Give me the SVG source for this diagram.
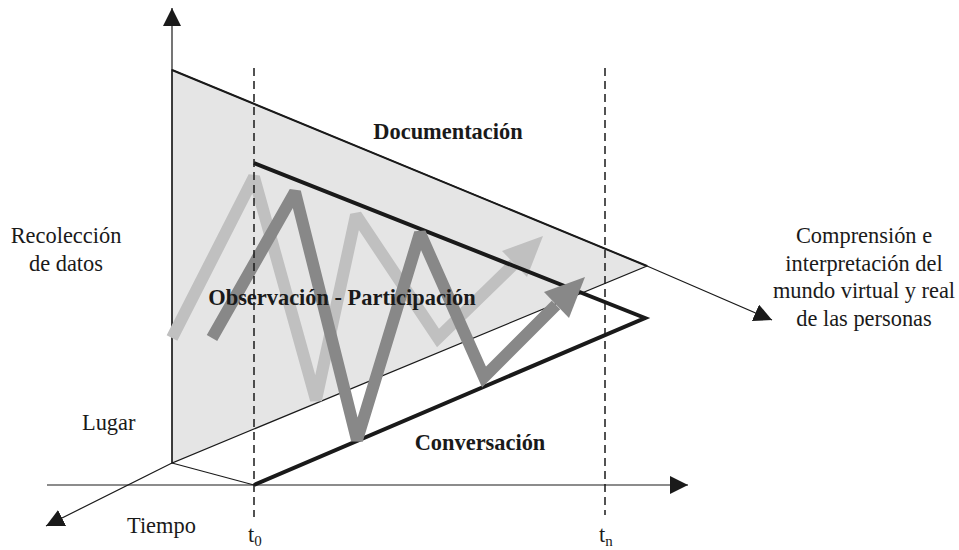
<svg xmlns="http://www.w3.org/2000/svg" width="959" height="550" viewBox="0 0 959 550">
<style>
text{font-family:'Liberation Serif','DejaVu Serif',serif;fill:#1a1a1a;font-size:22.4px}
.b{font-weight:bold}
.ax{stroke:#1a1a1a;stroke-width:1.2;fill:none}
.dash{stroke:#1a1a1a;stroke-width:1.5;stroke-dasharray:8 5;fill:none}
.zz{fill:none;stroke-width:12;stroke-linejoin:miter;stroke-miterlimit:2}
</style>
<defs>
<marker id="ah" markerUnits="userSpaceOnUse" markerWidth="20" markerHeight="20" refX="18" refY="9" orient="auto" viewBox="0 0 20 20">
<path d="M0,0 L18,9 L0,18 z" fill="#1a1a1a"/>
</marker>
</defs>
<rect width="959" height="550" fill="#fff"/>
<g id="connectors">
<polygon id="area" points="172,70 172,463 647,266" fill="#e5e5e5" stroke="#1a1a1a" stroke-width="1.2"/>
<line x1="172" y1="70" x2="647" y2="266" stroke="#1a1a1a" stroke-width="2"/>
<line class="ax" x1="172" y1="463" x2="172" y2="8" marker-end="url(#ah)"/>
<line class="ax" x1="47" y1="485" x2="688" y2="485" marker-end="url(#ah)"/>
<line class="ax" x1="172" y1="463" x2="46" y2="526" marker-end="url(#ah)"/>
<line class="ax" x1="647" y1="266" x2="772" y2="320" marker-end="url(#ah)"/>
<line class="ax" x1="172" y1="463" x2="254" y2="485" stroke-width="1.5"/>
<polyline class="zz" points="172,338 254,177 316,400 356,215 438,338 514,264" stroke="#c0c0c0"/>
<polygon points="543,236 527,277 502,251" fill="#c0c0c0"/>
<polyline points="254,163 645,318 254,485" fill="none" stroke="#1a1a1a" stroke-width="4" stroke-linejoin="miter"/>
<polyline class="zz" points="212,338 295,192 357,440 420,233 484,377 556,305" stroke="#888888"/>
<polygon points="585,277 569,318 544,292" fill="#888888"/>
<line class="dash" x1="254" y1="68" x2="254" y2="517"/>
<line class="dash" x1="605" y1="68" x2="605" y2="515"/>
</g>
<g id="documentacion"><text class="b" x="448" y="139" text-anchor="middle">Documentación</text></g>
<g id="observacion"><text class="b" x="342" y="305" text-anchor="middle">Observación - Participación</text></g>
<g id="conversacion"><text class="b" x="480" y="450" text-anchor="middle">Conversación</text></g>
<g id="recoleccion"><text x="66" y="243" text-anchor="middle">Recolección</text><text x="66" y="271" text-anchor="middle">de datos</text></g>
<g id="lugar"><text x="82" y="430">Lugar</text></g>
<g id="tiempo"><text x="127" y="533">Tiempo</text></g>
<g id="t0"><text x="248" y="542">t<tspan font-size="15" dy="4">0</tspan></text></g>
<g id="tn"><text x="599" y="542">t<tspan font-size="15" dy="4">n</tspan></text></g>
<g id="comprension">
<text x="864" y="243" text-anchor="middle">Comprensión e</text>
<text x="864" y="271" text-anchor="middle">interpretación del</text>
<text x="864" y="298" text-anchor="middle">mundo virtual y real</text>
<text x="864" y="326" text-anchor="middle">de las personas</text>
</g>
</svg>
